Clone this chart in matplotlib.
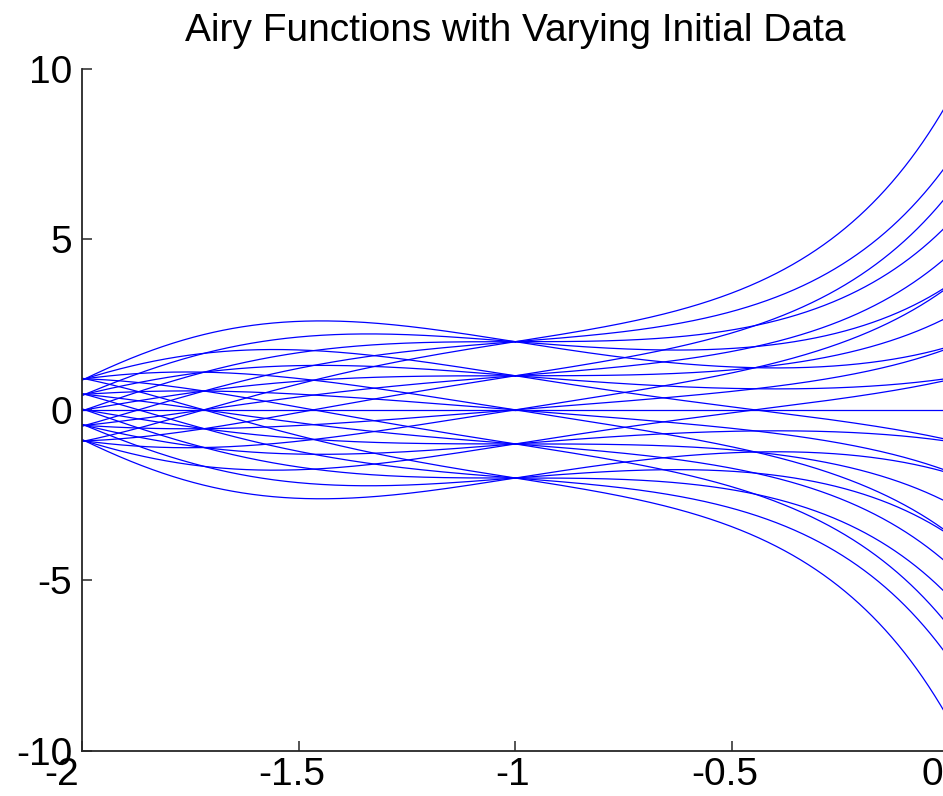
import numpy as np
import matplotlib
matplotlib.use("Agg")
import matplotlib.pyplot as plt
from matplotlib.transforms import ScaledTranslation

# Airy equation y'' = s*y, initial data at s = 0 (plotted at x = -1)
y0_values = [-2, -1, 0, 1, 2]             # y(0)
dy0_values = [-1.0, -0.5, 0.0, 0.5, 1.0]  # y'(0)
s_span = [-2.0, 2.0]                      # Airy variable range
x_ticks = [-2, -1.5, -1, -0.5, 0]
x_tick_labels = ["-2", "-1.5", "-1", "-0.5", "0"]
y_ticks = [-10, -5, 0, 5, 10]
y_tick_labels = ["-10", "-5", "0", "5", "10"]
title_text = "Airy Functions with Varying Initial Data"


def airy_rhs(s, u):
    return np.array([u[1], s * u[0]])


def integrate(y0, dy0, s_end, n=800):
    h = (s_end - 0.0) / n
    s = 0.0
    u = np.array([y0, dy0], dtype=float)
    ss = [s]
    ys = [u[0]]
    for _ in range(n):
        k1 = airy_rhs(s, u)
        k2 = airy_rhs(s + h / 2, u + h / 2 * k1)
        k3 = airy_rhs(s + h / 2, u + h / 2 * k2)
        k4 = airy_rhs(s + h, u + h * k3)
        u = u + h / 6 * (k1 + 2 * k2 + 2 * k3 + k4)
        s += h
        ss.append(s)
        ys.append(u[0])
    return np.array(ss), np.array(ys)


fig = plt.figure(figsize=(9.43, 7.96), dpi=100)
ax = fig.add_axes([82 / 943, 45.3 / 796, (948.7 - 82) / 943, (750.7 - 69) / 796])

for y0 in y0_values:
    for dy0 in dy0_values:
        for s_end in s_span:
            s, y = integrate(y0, dy0, s_end)
            x = s / 2.0 - 1.0  # map Airy variable [-2, 2] onto plotted axis [-2, 0]
            ax.plot(x, y, color=(0, 0, 1), lw=0.9)

ax.set_xlim(-2, 0)
ax.set_ylim(-10, 10)
ax.set_xticks(x_ticks)
ax.set_xticklabels(x_tick_labels)
ax.set_yticks(y_ticks)
ax.set_yticklabels(y_tick_labels)

for side in ["top", "right"]:
    ax.spines[side].set_visible(False)
for side in ["left", "bottom"]:
    ax.spines[side].set_color("#262626")
    ax.spines[side].set_linewidth(1.3)

ax.tick_params(direction="in", length=7, width=1.1, color="#262626", labelsize=28)
ax.tick_params(axis="x", pad=4.8)
ax.tick_params(axis="y", pad=7)
for lab in ax.get_xticklabels() + ax.get_yticklabels():
    lab.set_fontfamily("Liberation Sans")

# small horizontal offsets of the x tick labels as in the reference
x_label_shift_px = [-20, -7, -3, -7, -16]
for lab, dx in zip(ax.get_xticklabels(), x_label_shift_px):
    lab.set_transform(lab.get_transform() + ScaledTranslation(dx / 100, 0, fig.dpi_scale_trans))

ax.set_title(title_text, fontsize=28, fontfamily="Liberation Sans", pad=20)

fig.savefig("out.png", dpi=100)
